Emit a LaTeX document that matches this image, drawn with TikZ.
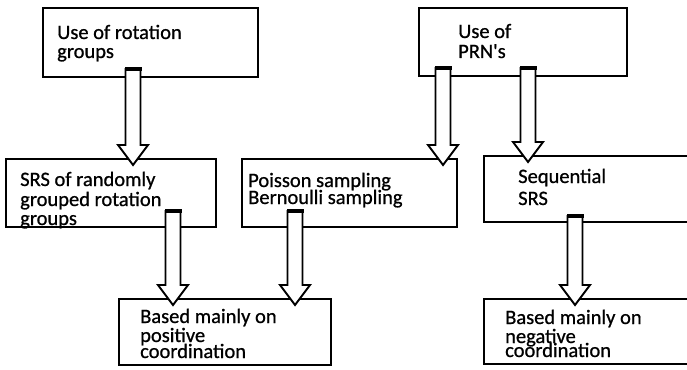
\documentclass[tikz,border=0pt]{standalone}
\usepackage{fontspec}
\newfontfamily\boxfont[FakeBold=0.8]{Carlito}
\usetikzlibrary{calc}

% Hollow block arrow: #1 = x position, #2 = source box, #3 = target box,
% #4 = how far above the source's bottom edge the arrow starts (pt)
\newcommand\flowarrow[4]{%
  \draw[shaft] let \p1=(#1,0 |- #2.south), \p2=(#1,0 |- #3.north) in
    (\x1-7.5pt,\y1+#4pt) -- (\x1-7.5pt,\y2+14pt) -- (\x1-15pt,\y2+14pt)
    -- (\x1,\y2-6pt) -- (\x1+15pt,\y2+14pt) -- (\x1+7.5pt,\y2+14pt)
    -- (\x1+7.5pt,\y1+#4pt);
  \fill let \p1=(#1,0 |- #2.south) in
    (\x1-8.5pt,\y1+#4pt+1pt) rectangle (\x1+8.5pt,\y1+#4pt-3pt);
}

\begin{document}
\begin{tikzpicture}[x=1pt,y=-1pt,
  box/.style={draw, line width=2.9pt, rectangle, inner sep=0pt, outer sep=0pt,
    anchor=north west},
  txt/.style={anchor=base west, inner sep=0pt, align=left,
    font=\boxfont\fontsize{20.5}{19}\selectfont},
  shaft/.style={draw, fill=white, line width=1.9pt, line join=miter},
]
\useasboundingbox (0,0) rectangle (687,369);
\clip (0,0) rectangle (687,369);

% boxes
\node[box, minimum width=215pt, minimum height=69pt] (b1) at (43,8) {};
\node[box, minimum width=210pt, minimum height=68pt] (b2) at (6,159) {};
\node[box, minimum width=215pt, minimum height=68pt] (b3) at (242,159) {};
\node[box, minimum width=208pt, minimum height=68pt] (b4) at (419,8) {};
\node[box, minimum width=236pt, minimum height=66pt] (b5) at (484,156) {};
\node[box, minimum width=212pt, minimum height=66pt] (b6) at (119,299) {};
\node[box, minimum width=236pt, minimum height=65pt] (b7) at (484,299) {};

% labels (placed by the baseline of their last line)
\node[txt] (t1) at (57,58) {Use of rotation\\groups};
\node[txt] (t2) at (20,225) {SRS of randomly\\[1pt]grouped rotation\\groups};
\node[txt] (t3) at (248,204) {Poisson sampling\\[-2pt]Bernoulli sampling};
\node[txt] (t4) at (458,58) {Use of\\[1pt]PRN's};
\node[txt] (t5) at (518,205) {Sequential\\[3pt]SRS};
\node[txt] (t6) at (140,358) {Based mainly on\\positive\\[-3pt]coordination};
\node[txt] (t7) at (505,357) {Based mainly on\\negative\\[-5pt]coordination};

% arrows
\flowarrow{133}{b1}{b2}{9}
\flowarrow{443}{b4}{b3}{9}
\flowarrow{528}{b4}{b5}{9}
\flowarrow{173}{b2}{b6}{17}
\flowarrow{295}{b3}{b6}{17}
\flowarrow{575}{b5}{b7}{7}
\end{tikzpicture}
\end{document}
